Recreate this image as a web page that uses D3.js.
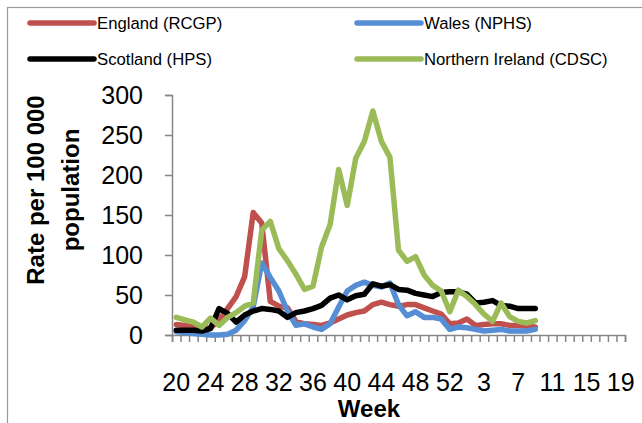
<!DOCTYPE html>
<html>
<head>
<meta charset="utf-8">
<script src="https://cdn.jsdelivr.net/npm/d3@7"></script>
<style>
  body { margin: 0; background: #fff; }
  svg { display: block; }
  text { font-family: "Liberation Sans", Arial, sans-serif; fill: #000; }
</style>
</head>
<body>
<div id="chart"></div>
<script>
// weeks 20-53 of 2009, then 1-19 of 2010
const weeks = [20, 21, 22, 23, 24, 25, 26, 27, 28, 29, 30, 31, 32, 33, 34, 35, 36, 37, 38, 39,
    40, 41, 42, 43, 44, 45, 46, 47, 48, 49, 50, 51, 52, 53,
    1, 2, 3, 4, 5, 6, 7, 8, 9, 10, 11, 12, 13, 14, 15, 16, 17, 18, 19]
const tickWeeks = [20, 24, 28, 32, 36, 40, 44, 48, 52, 3, 7, 11, 15, 19]
const yTicks = [0, 50, 100, 150, 200, 250, 300]

const england = [13, 12, 10, 8, 9, 18, 33, 48, 73, 153, 140, 42, 36, 34, 17, 14, 13, 12, 15, 20,
    25, 28, 30, 38, 41, 38, 36, 38, 38, 34, 30, 26, 14, 15, 20, 12, 13, 14, 14, 12, 12, 11, 10]
const wales = [4, 3, 2, 1, 0, 0, 1, 6, 18, 35, 90, 72, 55, 30, 12, 14, 10, 7, 14, 35,
    55, 62, 66, 62, 60, 65, 38, 24, 29, 22, 22, 20, 7, 10, 9, 7, 5, 6, 7, 5, 5, 5, 7]
const scotland = [6, 6, 6, 5, 8, 33, 27, 16, 25, 30, 33, 32, 30, 22, 28, 30, 33, 37, 46, 50,
    44, 49, 51, 64, 61, 63, 57, 56, 52, 50, 48, 53, 54, 54, 51, 40, 41, 43, 37, 36, 33, 33, 33]
const nIreland = [22, 19, 16, 10, 21, 12, 22, 28, 36, 40, 131, 142, 108, 93, 76, 57, 61, 110, 138, 207,
    162, 221, 242, 280, 242, 222, 106, 92, 98, 75, 62, 55, 29, 56, 48, 38, 26, 17, 40, 23, 17, 15, 18]

const series = [
    { name: "England (RCGP)", values: england, color: "#C0504D" },
    { name: "Wales (NPHS)", values: wales, color: "#558ED5" },
    { name: "Scotland (HPS)", values: scotland, color: "#000000" },
    { name: "Northern Ireland (CDSC)", values: nIreland, color: "#9BBB59" },
]

const width = 642
const height = 423
const plot = { left: 172, right: 625, top: 95, bottom: 335 }
const axisColor = "#868686"

const svg = d3.select("#chart")
    .append("svg")
    .attr("width", width)
    .attr("height", height)

// chart frame
svg.append("rect")
    .attr("x", 7.5).attr("y", 7.5)
    .attr("width", 700).attr("height", 500)
    .attr("fill", "none")
    .attr("stroke", "#9a9a9a")
    .attr("stroke-width", 1.2)

const x = d3.scaleBand()
    .domain(weeks.map(String))
    .range([plot.left, plot.right])

const xEdges = d3.scaleLinear()
    .domain([0, weeks.length])
    .range([plot.left, plot.right])

const y = d3.scaleLinear()
    .domain([0, 300])
    .range([plot.bottom, plot.top])

// y axis
const yAxis = svg.append("g")
    .attr("transform", `translate(${plot.left},0)`)
    .call(d3.axisLeft(y).tickValues(yTicks).tickSize(7).tickPadding(22))
yAxis.select(".domain").attr("stroke", axisColor).attr("stroke-width", 1.5)
yAxis.selectAll(".tick line").attr("stroke", axisColor).attr("stroke-width", 1.5)
yAxis.selectAll("text").attr("font-size", "25px").attr("font-family", null)

// x axis tick marks between categories
const xAxis = svg.append("g")
    .attr("transform", `translate(0,${plot.bottom})`)
    .call(d3.axisBottom(xEdges).tickValues(d3.range(weeks.length + 1)).tickSize(7).tickFormat(""))
xAxis.select(".domain").attr("stroke", axisColor).attr("stroke-width", 1.5)
xAxis.selectAll(".tick line").attr("stroke", axisColor).attr("stroke-width", 1.5)

// x labels centred on categories
const xLabels = svg.append("g")
    .attr("transform", `translate(0,${plot.bottom})`)
    .call(d3.axisBottom(x).tickValues(tickWeeks.map(String)).tickSize(0).tickPadding(38))
xLabels.select(".domain").remove()
xLabels.selectAll("text").attr("font-size", "25px").attr("font-family", null)

// axis titles
svg.append("text")
    .attr("x", 369)
    .attr("y", 417)
    .attr("text-anchor", "middle")
    .attr("font-size", "24px")
    .attr("font-weight", "bold")
    .text("Week")

const yTitle = svg.append("text")
    .attr("transform", "translate(44,190) rotate(-90)")
    .attr("text-anchor", "middle")
    .attr("font-size", "24px")
    .attr("font-weight", "bold")
yTitle.append("tspan").attr("x", 0).attr("y", 0).text("Rate per 100 000")
yTitle.append("tspan").attr("x", 0).attr("y", 35).text("population")

// lines
const line = d3.line()
    .x((d, i) => x(String(weeks[i])) + x.bandwidth() / 2)
    .y(d => y(d))

svg.selectAll(".series")
    .data(series)
    .join("path")
    .attr("class", "series")
    .attr("d", d => line(d.values))
    .attr("fill", "none")
    .attr("stroke", d => d.color)
    .attr("stroke-width", 5.5)
    .attr("stroke-linejoin", "round")
    .attr("stroke-linecap", "round")

// legend, two columns
const legend = svg.append("g")
const items = legend.selectAll(".item")
    .data(series)
    .join("g")
    .attr("class", "item")
    .attr("transform", (d, i) => `translate(${i % 2 === 0 ? 30 : 357},${i < 2 ? 23 : 59})`)

items.append("line")
    .attr("x1", 0).attr("x2", 64)
    .attr("y1", 0).attr("y2", 0)
    .attr("stroke", d => d.color)
    .attr("stroke-width", 5.5)
    .attr("stroke-linecap", "round")

items.append("text")
    .attr("x", 67)
    .attr("y", 0)
    .attr("dy", "0.35em")
    .attr("font-size", "16.7px")
    .text(d => d.name)
</script>
</body>
</html>
